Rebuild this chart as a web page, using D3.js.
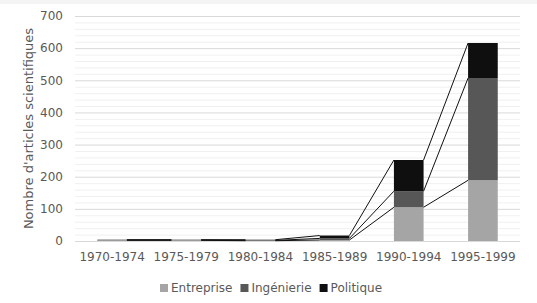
<!DOCTYPE html>
<html>
<head>
<meta charset="utf-8">
<script src="https://cdn.jsdelivr.net/npm/d3@7"></script>
<style>
  body { margin: 0; background: #fff; }
  text { font-family: "DejaVu Sans", sans-serif; fill: #595959; }
</style>
</head>
<body>
<svg id="chart" width="537" height="303"></svg>
<script>
// categories and series
var periods = ["1970-1974", "1975-1979", "1980-1984", "1985-1989", "1990-1994", "1995-1999"]
var entreprise = [2, 2, 1, 3, 105, 189]
var ingenierie = [1, 1, 1, 5, 50, 318]
var politique = [1, 1, 2, 9, 97, 109]
var seriesNames = ["Entreprise", "Ingénierie", "Politique"]
var seriesColors = ["#a5a5a5", "#575757", "#0f0f0f"]
var yTicks = [0, 100, 200, 300, 400, 500, 600, 700]

var svg = d3.select("#chart")

// thin border strip at top like the original
svg.append("rect").attr("x", 0).attr("y", 0).attr("width", 537).attr("height", 4).attr("fill", "#f4f4f4")

var margin = { top: 16, left: 75, right: 17, bottom: 62 }
var width = 537 - margin.left - margin.right
var height = 303 - margin.top - margin.bottom

var table = periods.map(function (p, i) {
    return { period: p, Entreprise: entreprise[i], "Ingénierie": ingenierie[i], Politique: politique[i] }
})
var stacked = d3.stack().keys(seriesNames)(table)

var x = d3.scaleBand().domain(periods).range([0, width]).paddingInner(0.6).paddingOuter(0.3)
var y = d3.scaleLinear().domain([0, 700]).range([height, 0])

var g = svg.append("g").attr("transform", "translate(" + margin.left + "," + margin.top + ")")

// minor gridlines every 20
g.selectAll(".minor").data(d3.range(0, 701, 20).filter(function (v) { return v % 100 != 0 }))
    .enter().append("line")
    .attr("x1", 0).attr("x2", width)
    .attr("y1", function (d) { return y(d) + 0.5 }).attr("y2", function (d) { return y(d) + 0.5 })
    .attr("stroke", "#f0f0f0")

// major gridlines
g.selectAll(".major").data(yTicks)
    .enter().append("line")
    .attr("x1", 0).attr("x2", width)
    .attr("y1", function (d) { return y(d) + 0.5 }).attr("y2", function (d) { return y(d) + 0.5 })
    .attr("stroke", "#d9d9d9")

// y tick labels
var yAxis = g.append("g").call(d3.axisLeft(y).tickValues(yTicks).tickSize(0).tickPadding(12))
yAxis.select(".domain").remove()
yAxis.selectAll("text").style("font-size", "12px").attr("fill", "#595959")

// x tick labels
var xAxis = g.append("g").attr("transform", "translate(0," + height + ")")
    .call(d3.axisBottom(x).tickSize(0).tickPadding(11))
xAxis.select(".domain").remove()
xAxis.selectAll("text").style("font-size", "12px").attr("fill", "#595959")

// bars
g.selectAll(".layer").data(stacked)
    .enter().append("g")
    .attr("fill", function (d, i) { return seriesColors[i] })
    .selectAll("rect").data(function (d) { return d })
    .enter().append("rect")
    .attr("x", function (d) { return x(d.data.period) })
    .attr("width", x.bandwidth())
    .attr("y", function (d) { return y(d[1]) })
    .attr("height", function (d) { return y(d[0]) - y(d[1]) })

// series lines between bars
stacked.forEach(function (layer) {
    for (var i = 0; i < layer.length - 1; i++) {
        g.append("line")
            .attr("x1", x(periods[i]) + x.bandwidth())
            .attr("y1", y(layer[i][1]))
            .attr("x2", x(periods[i + 1]))
            .attr("y2", y(layer[i + 1][1]))
            .attr("stroke", "#111")
            .attr("stroke-width", 1)
    }
})

// y axis title
svg.append("text")
    .attr("transform", "translate(33," + (margin.top + height / 2) + ") rotate(-90)")
    .attr("text-anchor", "middle")
    .style("font-size", "13px")
    .text("Nombre d'articles scientifiques")

// legend
var legend = svg.append("g").attr("transform", "translate(160,288)")
var lx = 0
seriesNames.forEach(function (name, i) {
    var item = legend.append("g").attr("transform", "translate(" + lx + ",0)")
    item.append("rect").attr("x", 0).attr("y", -4).attr("width", 8).attr("height", 8).attr("fill", seriesColors[i])
    var t = item.append("text").attr("x", 11).attr("y", 0).attr("dy", "0.35em").style("font-size", "12px").text(name)
    lx += 11 + t.node().getComputedTextLength() + 8
})
</script>
</body>
</html>
